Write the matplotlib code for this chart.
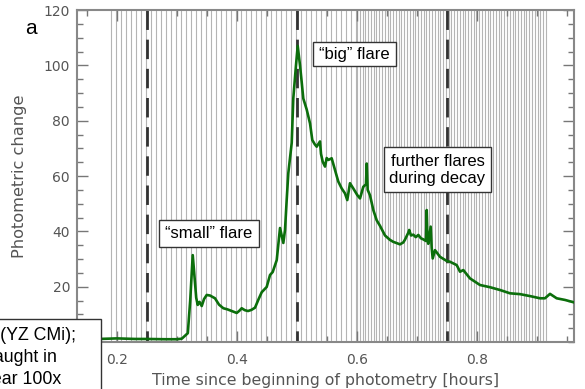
import numpy as np
import matplotlib
matplotlib.use('Agg')
import matplotlib.pyplot as plt
from matplotlib.patches import Rectangle

plt.rcParams['lines.scale_dashes'] = False

# light curve (hours, photometric change)
time_h = [0.133, 0.17, 0.20, 0.23, 0.25, 0.28, 0.30, 0.308, 0.318, 0.322,
          0.3262, 0.329, 0.332, 0.3345, 0.3375, 0.3412, 0.345, 0.3495, 0.355,
          0.3633, 0.370, 0.3772, 0.384, 0.3912, 0.3995, 0.404, 0.4078, 0.413,
          0.4183, 0.424, 0.430, 0.436, 0.4412, 0.4495, 0.455, 0.4595, 0.4662,
          0.4717, 0.4772, 0.480, 0.4828, 0.4855, 0.4912, 0.4938, 0.4983,
          0.5012, 0.505, 0.5078, 0.5105, 0.5162, 0.5217, 0.5255, 0.5295,
          0.5328, 0.5383, 0.540, 0.5428, 0.5467, 0.5495, 0.5522, 0.5578,
          0.5633, 0.5688, 0.5745, 0.580, 0.5838, 0.5883, 0.5938, 0.6005,
          0.605, 0.6105, 0.615, 0.6162, 0.6178, 0.6217, 0.6272, 0.6328,
          0.6383, 0.6467, 0.655, 0.6605, 0.6717, 0.6772, 0.680, 0.6855,
          0.687, 0.690, 0.6938, 0.698, 0.7022, 0.7065, 0.7105, 0.715, 0.7162,
          0.7175, 0.7188, 0.7228, 0.7245, 0.7262, 0.730, 0.7383, 0.7495,
          0.755, 0.7662, 0.7717, 0.7772, 0.7883, 0.805, 0.8217, 0.8383,
          0.855, 0.8717, 0.8883, 0.905, 0.9133, 0.9217, 0.9328, 0.9467, 0.962]
phot = [1.0, 1.1, 1.3, 1.1, 1.1, 1.0, 1.0, 1.2, 3.2, 15.0,
        31.4, 24.0, 16.0, 13.4, 14.5, 13.0, 15.5, 17.0, 16.8,
        15.8, 13.5, 12.2, 11.8, 11.2, 10.5, 11.3, 12.2, 11.5,
        11.2, 11.6, 12.4, 15.5, 18.0, 19.9, 24.2, 25.3, 29.6,
        41.2, 35.8, 40.5, 51.3, 61.0, 72.0, 88.0, 100.0,
        107.0, 100.0, 94.0, 88.0, 84.0, 79.0, 73.0, 71.5,
        70.6, 72.5, 68.0, 65.2, 63.4, 66.5, 65.8, 66.4,
        62.2, 58.0, 55.5, 53.7, 51.3, 57.4, 55.5, 53.1,
        51.9, 56.1, 57.0, 64.5, 55.0, 53.0, 47.7, 44.0,
        42.0, 38.5, 36.9, 36.2, 35.3, 36.0, 37.0, 39.5,
        40.5, 38.5, 38.8, 37.9, 38.7, 37.5, 37.1, 36.5, 47.7,
        37.0, 35.5, 41.7, 34.0, 30.2, 33.2, 30.8, 29.3,
        29.0, 27.8, 25.4, 26.0, 23.0, 20.6, 19.8, 18.8,
        17.6, 17.3, 16.6, 15.8, 15.8, 17.4, 15.8, 15.2, 14.3]

# exposure cadence segments: (start, end, step) in hours
cadence = [(0.19, 0.60, 1 / 120), (0.60, 0.917, 1 / 216)]
dashed_times = [0.25, 0.5, 0.75]

W, H = 585, 389
fig = plt.figure(figsize=(W / 100, H / 100), dpi=100)
ax = fig.add_axes([77 / W, 1 - 342 / H, (574 - 77) / W, (342 - 10) / H])

frames = np.concatenate([np.arange(a, b, s) for a, b, s in cadence])
ax.vlines(frames, 0, 120, color='#b4b4b4', lw=0.8, zorder=1)
for t in dashed_times:
    ax.plot([t, t], [120, 0], color='#333333', lw=2, dashes=(14, 7), zorder=2)
ax.plot(time_h, phot, color='#0b6e0b', lw=1.9, zorder=3)

ax.set_xlim(0.1333, 0.9617)
ax.set_ylim(0, 120)
ax.set_xticks([0.2, 0.4, 0.6, 0.8])
ax.set_xticks(np.arange(0.15, 0.96, 0.05), minor=True)
ax.set_yticks([20, 40, 60, 80, 100, 120])
ax.set_yticks(np.arange(0, 121, 5), minor=True)
ax.tick_params(which='both', direction='in', top=True, right=True,
               color='#777777', width=1, labelcolor='#555555', labelsize=10)
ax.tick_params(which='major', length=8)
ax.tick_params(which='minor', length=4.5)
ax.tick_params(axis='x', pad=8)
ax.tick_params(axis='y', pad=5)
for s in ax.spines.values():
    s.set_color('#888888')
    s.set_linewidth(1.5)

ax.set_xlabel('Time since beginning of photometry [hours]', fontsize=11.3,
              color='#555555', labelpad=4)
ax.set_ylabel('Photometric change', fontsize=11.7, color='#555555', labelpad=12)

def fx(px):
    return px / W

def fy(py):
    return 1 - py / H

def box(x0, y0, x1, y1):
    fig.add_artist(Rectangle((fx(x0), fy(y1)), fx(x1) - fx(x0), fy(y0) - fy(y1),
                             transform=fig.transFigure, facecolor='white',
                             edgecolor='#333333', lw=1, zorder=5))

sans = 'Liberation Sans'
box(159, 220, 259, 247)
fig.text(fx(209), fy(234), '\u201csmall\u201d flare', ha='center', va='center',
         fontsize=12, family=sans, zorder=6)
box(313, 42, 396, 66)
fig.text(fx(354.5), fy(54.5), '\u201cbig\u201d flare', ha='center', va='center',
         fontsize=12, family=sans, zorder=6)
box(384, 147, 491, 192)
fig.text(fx(437.5), fy(170), 'further flares\nduring decay', ha='center',
         va='center', fontsize=12, family=sans, linespacing=1.2, zorder=6)

box(-5, 319, 101, 400)
fig.text(fx(76), fy(335), 'flare star (YZ CMi);', ha='right', va='center',
         fontsize=12.8, family=sans, zorder=6)
fig.text(fx(57), fy(357), 'caught in', ha='right', va='center',
         fontsize=12.8, family=sans, zorder=6)
fig.text(fx(61), fy(379), 'near 100x', ha='right', va='center',
         fontsize=12.8, family=sans, zorder=6)

fig.text(fx(30.5), fy(29), 'a', ha='center', va='center', fontsize=15,
         family=sans, zorder=6)

fig.savefig('out.png', dpi=100)
